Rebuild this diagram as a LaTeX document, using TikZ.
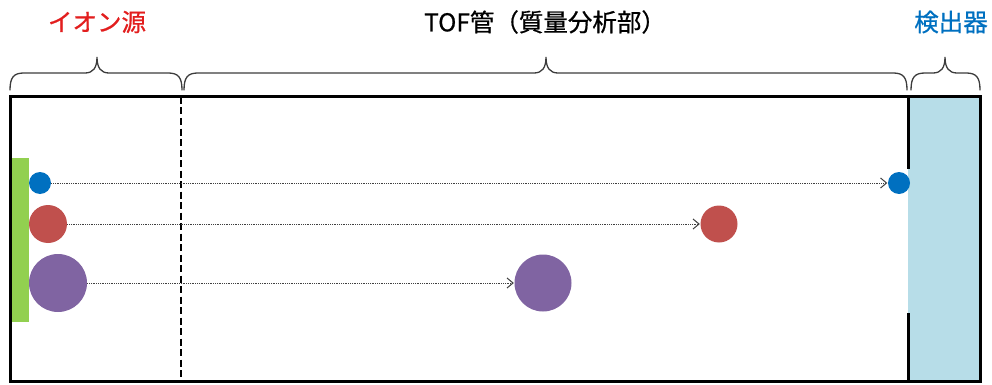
\documentclass[tikz,border=0pt]{standalone}
\usepackage{fontspec}
\newfontfamily\jp[FakeBold=0.7]{Noto Sans CJK JP}
\usetikzlibrary{arrows.meta}
\definecolor{srcred}{RGB}{226,30,30}
\definecolor{detblue}{RGB}{0,112,192}
\definecolor{detfill}{RGB}{183,221,232}
\definecolor{srcgreen}{RGB}{146,208,80}
\definecolor{ionblue}{RGB}{0,112,192}
\definecolor{ionred}{RGB}{192,80,77}
\definecolor{ionpurple}{RGB}{128,100,162}
\definecolor{bracecol}{RGB}{60,60,60}
\tikzset{
  lbl/.style={font=\jp\fontsize{24.5}{28}\selectfont, inner sep=0pt, anchor=center},
  ion/.style={circle, inner sep=0pt, draw=none, fill=#1},
  flight/.style={densely dotted, line width=0.8pt, draw=black!75, -{Straight Barb[length=6pt,width=10pt,line width=1pt]}, shorten >=0.5pt},
  bracestyle/.style={draw=bracecol, line width=1.3pt, line cap=round},
  frame/.style={line width=3pt}
}
\newcommand{\mybrace}[3]{% x1, xm, x2
  \draw[bracestyle] (#1,90) .. controls (#1,77) and (#1+4,73) .. (#1+14,73)
    -- (#2-12,73) .. controls (#2-4,73) and (#2,68) .. (#2,57)
    .. controls (#2,68) and (#2+4,73) .. (#2+12,73)
    -- (#3-14,73) .. controls (#3-4,73) and (#3,77) .. (#3,90);}
\begin{document}
\begin{tikzpicture}[x=1pt,y=-1pt]
\useasboundingbox (0,0) rectangle (992,385);
% labels
\node[lbl, text=srcred] (lblsrc) at (97,22) {イオン源};
\node[lbl, text=black] (lbltof) at (545,22) {TOF管（質量分析部）};
\node[lbl, text=detblue] (lbldet) at (951,22) {検出器};
% braces
\mybrace{10}{97}{182}
\mybrace{184}{546}{907}
\mybrace{911}{945}{980}
% detector fill
\fill[detfill] (908,97) rectangle (980,381);
% source plate
\fill[srcgreen] (12,158) rectangle (29,322);
% frame
\draw[frame] (10,97) rectangle (980,381);
\draw[frame] (908,97) -- (908,169);
\draw[frame] (908,313) -- (908,381);
\draw[line width=2.2pt, dash pattern=on 7pt off 3.5pt] (181,97) -- (181,381);
% ions
\node[ion=ionblue, minimum size=22pt] (b1) at (40,183) {};
\node[ion=ionred, minimum size=38pt] (r1) at (48,224) {};
\node[ion=ionpurple, minimum size=58pt] (p1) at (58,283) {};
\node[ion=ionblue, minimum size=22pt] (b2) at (899,183) {};
\node[ion=ionred, minimum size=37pt] (r2) at (719,224) {};
\node[ion=ionpurple, minimum size=57pt] (p2) at (543,283) {};
% flights
\draw[flight] (b1) -- (b2);
\draw[flight] (r1) -- (r2);
\draw[flight] (p1) -- (p2);
\end{tikzpicture}
\end{document}
